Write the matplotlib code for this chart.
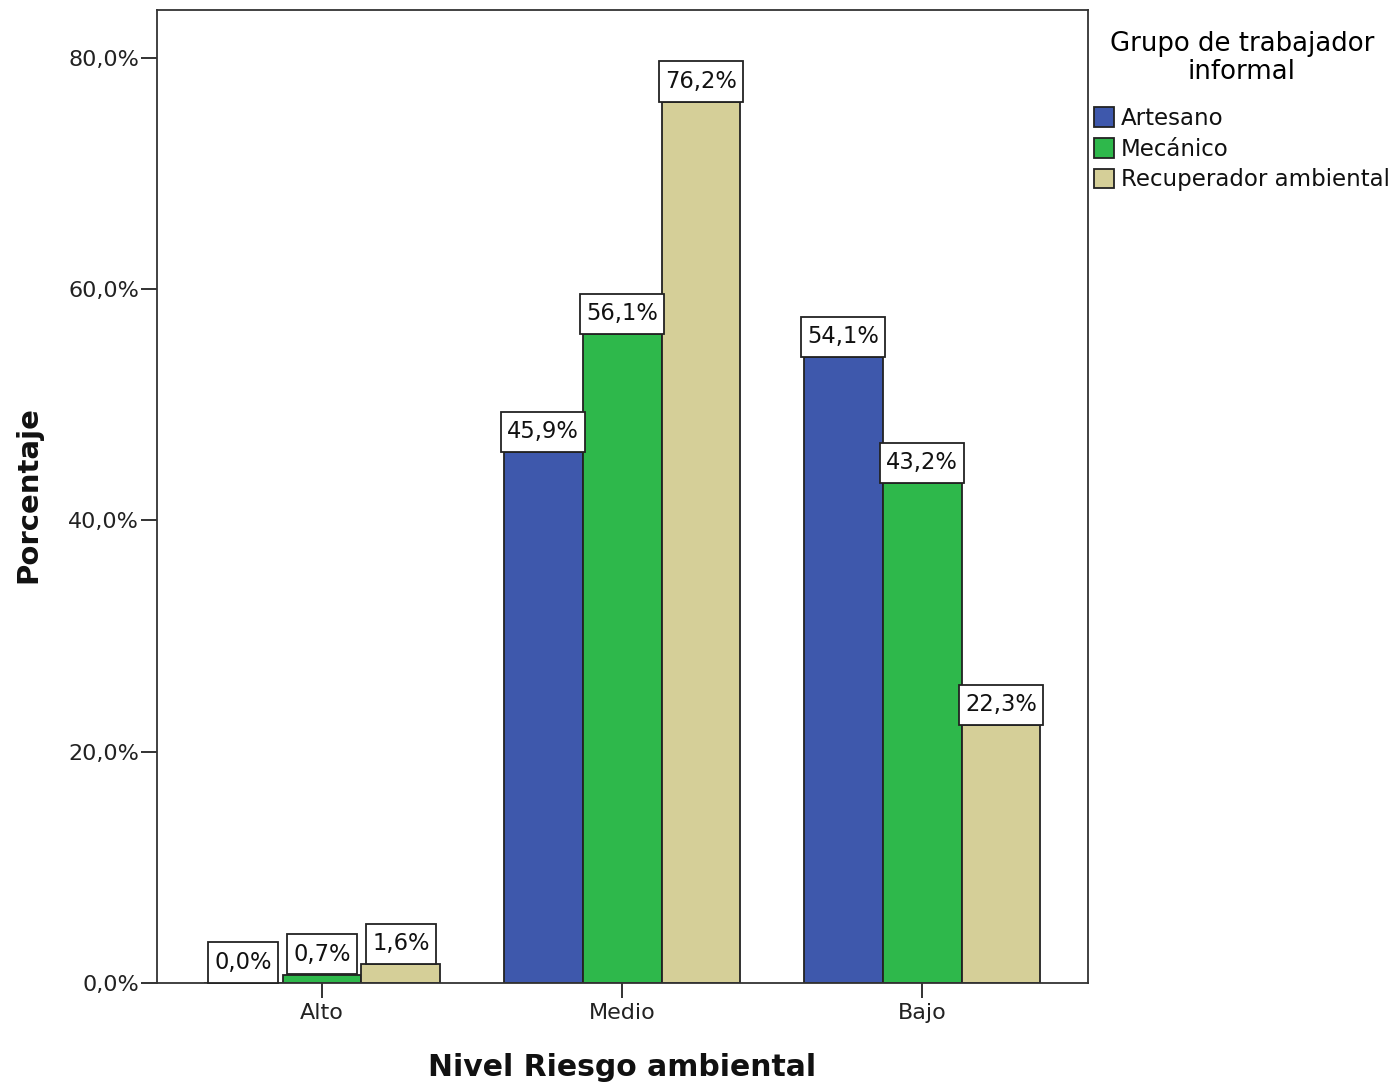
import matplotlib
matplotlib.use("Agg")
import matplotlib.pyplot as plt
import numpy as np
from matplotlib.path import Path
from matplotlib.ticker import FuncFormatter, MultipleLocator

categories = ["Alto", "Medio", "Bajo"]
series_names = ["Artesano", "Mecánico", "Recuperador ambiental"]
artesano = [0.0, 45.9, 54.1]
mecanico = [0.7, 56.1, 43.2]
recuperador = [1.6, 76.2, 22.3]
colors = ["#3e58ac", "#2eb84b", "#d5cf98"]

plt.rcParams["font.family"] = ["DejaVu Sans"]

fig = plt.figure(figsize=(13.93, 10.87), dpi=100)
ax = fig.add_axes([157/1393, 1-983/1087, (1088-157)/1393, (983-10)/1087])

PADX, PADY = 0.27, 0.38


def label_box(x0, y0, width, height, mutation_size):
    px = PADX * mutation_size
    py = PADY * mutation_size
    x0, x1 = x0 - px, x0 + width + px
    y0, y1 = y0 - py, y0 + height + py
    return Path([(x0, y0), (x1, y0), (x1, y1), (x0, y1), (x0, y0)],
                [Path.MOVETO, Path.LINETO, Path.LINETO, Path.LINETO, Path.CLOSEPOLY])


x = np.arange(len(categories))
w = 0.263
label_fs = 16.3
values = [artesano, mecanico, recuperador]
for i, (vals, name, c) in enumerate(zip(values, series_names, colors)):
    pos = x + (i - 1) * w
    ax.bar(pos, vals, width=w, color=c, edgecolor="#222222", linewidth=1.3, label=name, zorder=2)
    for xp, v in zip(pos, vals):
        ax.annotate(f"{v:.1f}%".replace(".", ","), xy=(xp, v),
                    xytext=(0, PADY * label_fs + 0.3), textcoords="offset points",
                    ha="center", va="bottom", fontsize=label_fs, color="#111111", zorder=3,
                    bbox=dict(boxstyle=label_box, facecolor="white",
                              edgecolor="#222222", linewidth=1.3))

ax.set_xlim(-0.55, 2.553)
ax.set_ylim(0, 84.15)
ax.yaxis.set_major_locator(MultipleLocator(20))
ax.yaxis.set_major_formatter(FuncFormatter(lambda v, p: f"{v:.1f}%".replace(".", ",")))
ax.set_xticks(x)
ax.set_xticklabels(categories)
ax.tick_params(axis="both", direction="out", width=1.3, colors="#222222")
ax.tick_params(axis="y", labelsize=16, pad=1.5, length=11.5)
ax.tick_params(axis="x", labelsize=16, pad=4, length=10.5)
for s in ax.spines.values():
    s.set_linewidth(1.3)
    s.set_color("#333333")

fig.text(28/1393, 1-495/1087, "Porcentaje", rotation=90, ha="center", va="center",
         fontsize=21, fontweight="bold", color="#111111")
fig.text(622/1393, 1-1068/1087, "Nivel Riesgo ambiental", ha="center", va="center",
         fontsize=21.5, fontweight="bold", color="#111111")

leg = fig.legend(loc="upper left", bbox_to_anchor=(1094/1393, 1-31/1087),
                 title="Grupo de trabajador\ninformal", fontsize=16.5, title_fontsize=18.7,
                 frameon=False, handlelength=0.87, handleheight=0.95, handletextpad=0.3,
                 labelspacing=0.34, borderaxespad=0, borderpad=0)
leg.get_title().set_multialignment("center")
leg.get_title().set_linespacing(1.08)
leg._legend_box.align = "center"
leg._legend_box.sep = 16
for t in leg.get_texts():
    t.set_color("#111111")
for p in leg.get_patches():
    p.set_linewidth(1.3)

fig.savefig("out.png", dpi=100)
